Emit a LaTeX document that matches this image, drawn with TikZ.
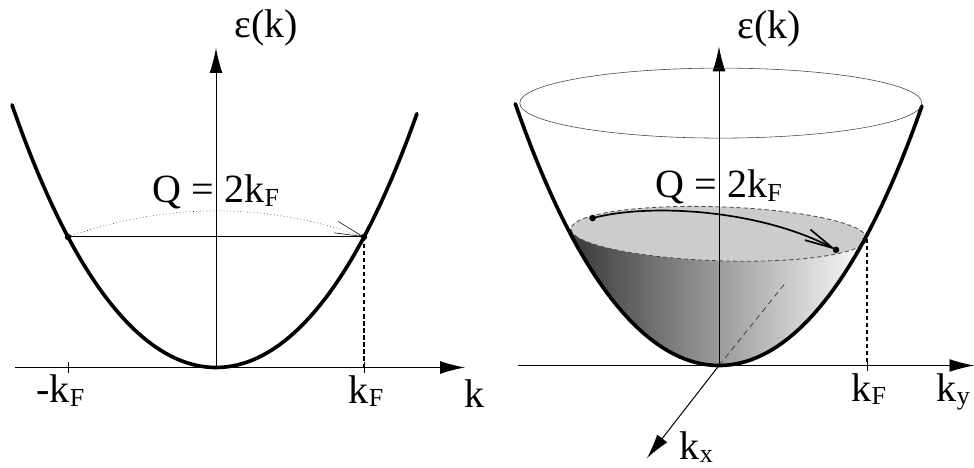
\documentclass[tikz,border=0pt]{standalone}
\usepackage{fontspec}
\setmainfont{Liberation Serif}
\newfontfamily\diagfont{Liberation Serif}
\usetikzlibrary{arrows.meta}
\newcommand{\lowidx}[1]{\raisebox{-2.4pt}{\fontsize{18.5}{20}\selectfont #1}}

\begin{document}
\begin{tikzpicture}[
				x=2.5cm, y=2.5cm,
				declare function={disp(\k)=0.5569*\k*\k+0.0178*\k*\k*\k*\k;},
				axis/.style={line width=0.7pt, -{Latex[length=6.2mm,width=3.2mm]}},
				band/.style={line width=2.6pt, line cap=round},
				level/.style={line width=0.7pt},
				drop/.style={line width=0.8pt, dash pattern=on 3pt off 2pt},
				hop/.style={-{Straight Barb[length=7mm,width=3mm]}},
				lbl/.style={font=\diagfont\fontsize{28.5}{32}\selectfont, inner sep=0pt, anchor=base}
				]
				
				\useasboundingbox (-2.16,-1.005) rectangle (7.58,3.675);
				
				% one-dimensional band
				\coordinate (O1) at (0,0);
				\coordinate (kmin) at (-2.01,0);
				\coordinate (kmax) at (2.49,0);
				\coordinate (eps1top) at (0,3.195);
				\coordinate (kL) at (-1.48,{disp(1.48)});
				\coordinate (kR) at (1.48,{disp(1.48)});
				\coordinate (kLb) at (-1.48,0);
				\coordinate (kRb) at (1.48,0);
				
				\draw[axis] (kmin) -- (kmax);
				\draw[axis] (O1) -- (eps1top);
				\draw[level] (kLb) ++(0,-0.055) -- ++(0,0.11);
				\draw[level] (kRb) ++(0,-0.055) -- ++(0,0.11);
				\draw[band] plot[domain=-2.04:2.01, samples=80] (\x,{disp(\x)});
				\draw[level] (kL) -- (kR);
				\draw[drop] (kR) -- (kRb);
				\draw[dotted, hop] (kL) .. controls (-0.5,1.652) and (0.5,1.652) .. (kR);
				\fill (kL) circle (2.3pt);
				\fill (kR) circle (2.3pt);
				
				\node[lbl] (eps1) at (0.50,3.295) {ε(k)};
				\node[lbl] (Q1) at (0,1.645) {Q = 2k\lowidx{F}};
				\node[lbl] (mkF) at (-1.555,-0.355) {-k\lowidx{F}};
				\node[lbl] (kF1) at (1.50,-0.358) {k\lowidx{F}};
				\node[lbl] (k1) at (2.585,-0.405) {k};
				
				% two-dimensional band
				\begin{scope}[shift={(5.03,0.02)}]
					\coordinate (O2) at (0,0);
					\coordinate (kymin) at (-2.007,0);
					\coordinate (kymax) at (2.553,0);
					\coordinate (kxtip) at (-0.72,-0.926);
					\coordinate (kxback) at (0.663,0.824);
					\coordinate (eps2top) at (0,3.19);
					\coordinate (FS) at (0,1.317);
					\coordinate (rim) at (0.018,2.624);
					\coordinate (pL) at (-1.264,1.474);
					\coordinate (pR) at (1.17,1.157);
					\coordinate (kyF) at (1.48,1.268);
					\coordinate (kyFb) at (1.48,0);
					
					% filled states
					\begin{scope}
						\clip plot[domain=-1.6:1.6, samples=60] (\x,{disp(\x)}) -- cycle;
						\clip (-1.7,-0.2) -- (-1.7,1.373) -- (1.7,1.261) -- (1.7,-0.2) -- cycle;
						\shade[left color=black!78, right color=white] (-1.5,-0.1) rectangle (1.5,1.6);
					\end{scope}
					\draw[fill=gray!40, draw=black!70, line width=0.6pt, dash pattern=on 3pt off 2pt, rotate around={-1.9:(FS)}]
					(FS) ellipse [x radius=3.7cm, y radius=0.675cm];
					\draw[black!80, line width=0.5pt, dash pattern=on 4pt off 3pt] (O2) -- (kxback);
					
					\draw[axis] (kymin) -- (kymax);
					\draw[axis] (O2) -- (eps2top);
					\draw[axis] (O2) -- (kxtip);
					\draw[level] (kyFb) ++(0,-0.055) -- ++(0,0.11);
					\draw[drop] (kyF) -- (kyFb);
					\draw[band] plot[domain=-2.037:2.03, samples=80] (\x,{disp(\x)});
					\draw[line width=0.4pt, black!75] (rim) ellipse [x radius=5.025cm, y radius=0.875cm];
					\draw[line width=1.2pt, hop] (pL) .. controls (-0.687,1.627) and (0.413,1.557) .. (pR);
					\fill (pL) circle (2.3pt);
					\fill (pR) circle (2.3pt);
					
					\node[lbl] (eps2) at (0.503,3.267) {ε(k)};
					\node[lbl] (Q2) at (-0.003,1.677) {Q = 2k\lowidx{F}};
					\node[lbl] (kF2) at (1.498,-0.36) {k\lowidx{F}};
					\node[lbl] (ky) at (2.343,-0.36) {k\lowidx{y}};
					\node[lbl] (kx) at (-0.227,-0.94) {k\lowidx{x}};
				\end{scope}
				
			\end{tikzpicture}
\end{document}
